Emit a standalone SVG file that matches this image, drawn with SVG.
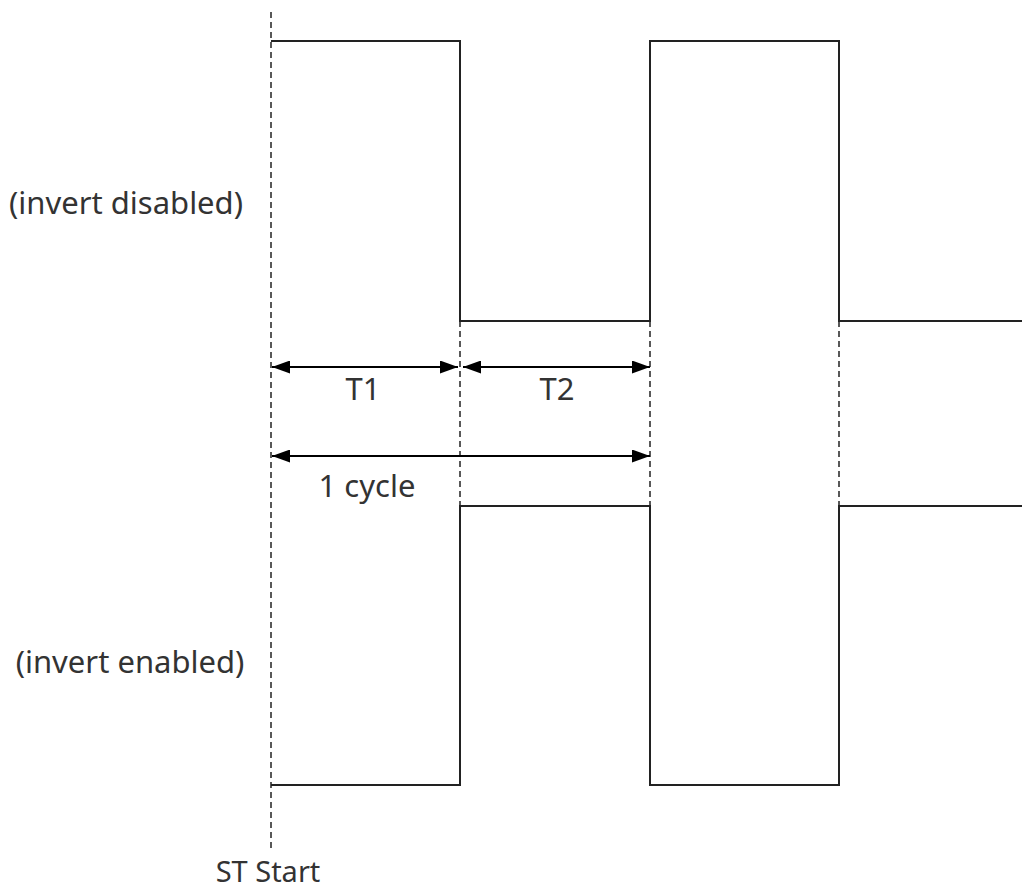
<svg xmlns="http://www.w3.org/2000/svg" width="1022" height="892" viewBox="0 0 1022 892">
<style>
.wave{fill:none;stroke:#222;stroke-width:2}
.dash{fill:none;stroke:#222;stroke-width:1.5;stroke-dasharray:6 4}
.dim{stroke:#000;stroke-width:2;fill:none}
.lbl{font-family:"Noto Sans","Open Sans",sans-serif;font-size:31px;fill:#333}
</style>
<defs>
<marker id="a" viewBox="0 0 18 13" refX="18" refY="6.5" markerWidth="18" markerHeight="13" orient="auto-start-reverse" markerUnits="userSpaceOnUse">
<path d="M0,0 L18,6.5 L0,13 z" fill="#000"/>
</marker>
</defs>
<g id="connectors">
<line class="dash" x1="271" y1="12" x2="271" y2="848"/>
<line class="dash" x1="460" y1="321" x2="460" y2="506"/>
<line class="dash" x1="650" y1="321" x2="650" y2="506"/>
<line class="dash" x1="839" y1="321" x2="839" y2="506"/>
<line class="dim" x1="272" y1="367" x2="458" y2="367" marker-start="url(#a)" marker-end="url(#a)"/>
<line class="dim" x1="463" y1="367" x2="650" y2="367" marker-start="url(#a)" marker-end="url(#a)"/>
<line class="dim" x1="272" y1="456" x2="650" y2="456" marker-start="url(#a)" marker-end="url(#a)"/>
</g>
<g id="wave-disabled">
<polyline class="wave" points="271,41 460,41 460,321 650,321 650,41 839,41 839,321 1022,321"/>
</g>
<g id="wave-enabled">
<polyline class="wave" points="271,785 460,785 460,506 650,506 650,785 839,785 839,506 1022,506"/>
</g>
<g id="labels">
<text class="lbl" x="126" y="214" text-anchor="middle">(invert disabled)</text>
<text class="lbl" x="130" y="673" text-anchor="middle">(invert enabled)</text>
<text class="lbl" x="363" y="400" text-anchor="middle">T1</text>
<text class="lbl" x="557" y="400" text-anchor="middle">T2</text>
<text class="lbl" x="367" y="497" text-anchor="middle">1 cycle</text>
<text class="lbl" x="268" y="882" text-anchor="middle" style="font-size:29px">ST Start</text>
</g>
</svg>
